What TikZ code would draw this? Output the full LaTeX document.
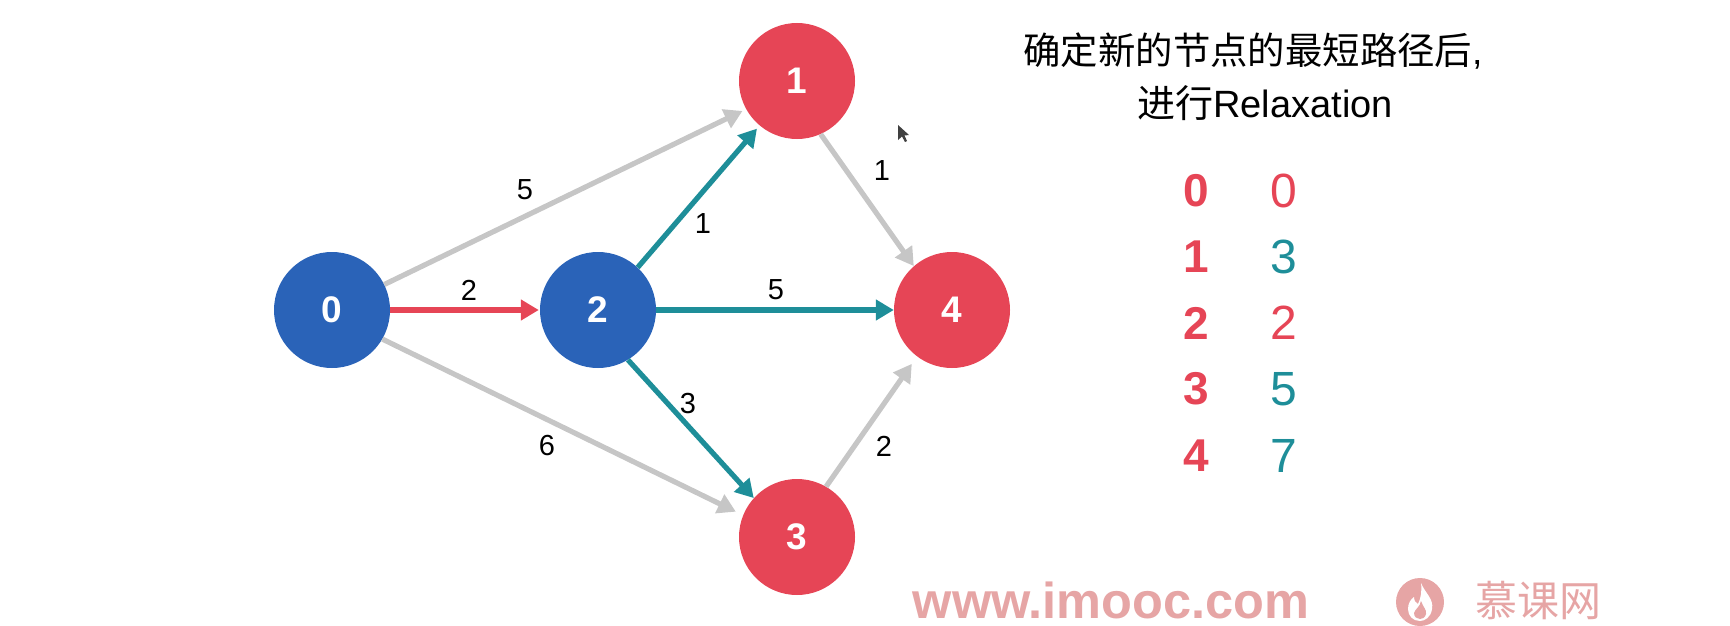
\documentclass[tikz,border=0pt]{standalone}
\usepackage{fontspec}
\setmainfont{Liberation Sans}
\newfontfamily\cjk{Noto Sans CJK SC}
\usepackage{xcolor}
\usetikzlibrary{arrows.meta,positioning,shapes.geometric}
\definecolor{ndblue}{HTML}{2A63B8}
\definecolor{ndred}{HTML}{E64556}
\definecolor{edteal}{HTML}{1E8E99}
\definecolor{edgray}{HTML}{C6C6C6}
\definecolor{wmark}{HTML}{E6A5A5}
\tikzset{
  nd/.style={circle, fill=#1, text=white, inner sep=0pt, minimum size=116pt, font=\fontsize{37}{37}\selectfont\bfseries},
  arr/.style={-{Triangle[length=18pt,width=20pt]}, line width=5.2pt, draw=#1},
  lbl/.style={inner sep=0pt, font=\fontsize{29}{29}\selectfont},
  tbl/.style={inner sep=0pt, font=\fontsize{48}{48}\selectfont, text=#1},
}
\begin{document}
\begin{tikzpicture}[x=1pt,y=-1pt]
  \useasboundingbox (0,0) rectangle (1730,626);
  \node[nd=ndblue] (n0) at (332,310) {0};
  \node[nd=ndblue] (n2) at (598,310) {2};
  \node[nd=ndred] (n1) at (797,81) {1};
  \node[nd=ndred] (n3) at (797,537) {3};
  \node[nd=ndred] (n4) at (952,310) {4};
  \foreach \a/\aa/\b/\bb/\s/\c in {n0/26/n1/209/4/edgray, n0/-30/n3/158/8/edgray, n1/-66/n4/131/0/edgray, n3/60/n4/233/9/edgray,
      n0/0/n2/180/1/ndred, n2/47/n1/230/4/edteal, n2/-59/n3/138/0/edteal, n2/0/n4/180/0/edteal}
    \draw[arr=\c, shorten >=\s pt] (\a.\aa) -- (\b.\bb);
  \node[lbl] (w01) at (525,190) {5};
  \node[lbl] (w02) at (469,290) {2};
  \node[lbl] (w03) at (547,446) {6};
  \node[lbl] (w21) at (703,224) {1};
  \node[lbl] (w24) at (776,290) {5};
  \node[lbl] (w23) at (688,404) {3};
  \node[lbl] (w14) at (882,171) {1};
  \node[lbl] (w34) at (884,446) {2};
  \node[inner sep=0pt, font=\fontsize{37.4}{38}\selectfont] (title) at (1253,51) {{\cjk 确定新的节点的最短路径后},};
  \node[inner sep=0pt, font=\fontsize{38}{38}\selectfont] (subtitle) at (1265,103) {{\cjk 进行}Relaxation};
  \foreach \i/\y/\v/\c in {0/191/0/ndred,1/257/3/edteal,2/323/2/ndred,3/389/5/edteal,4/456/7/edteal} {
    \node[tbl=ndred, font=\fontsize{46}{46}\selectfont\bfseries] (k\i) at (1196,\y) {\i};
    \node[tbl=\c] (d\i) at (1284,\y) {\v};
  }
  \fill[black!75] (898,125) -- (898,140) -- (902,136.5) -- (905,142) -- (907,141) -- (904.5,135.5) -- (909,135) -- cycle;
  \node[inner sep=0pt, text=wmark, font=\fontsize{50.5}{50.5}\selectfont\bfseries] (url) at (1111,600) {www.imooc.com};
  \node[circle, fill=wmark, inner sep=0pt, minimum size=48pt] (logo) at (1420,602) {};
  \fill[white] (1421,583) .. controls (1425,593) and (1434,599) .. (1432,609) .. controls (1431,617) and (1425,621) .. (1420,621) .. controls (1413,621) and (1408,616) .. (1408,609) .. controls (1408,603) and (1411,599) .. (1414,597) .. controls (1414,601) and (1416,603) .. (1418,604) .. controls (1421,598) and (1422,591) .. (1421,583);
  \fill[wmark] (1421,601) .. controls (1423,607) and (1427,610) .. (1426,614) .. controls (1425,618) and (1422,619) .. (1420,619) .. controls (1417,619) and (1414,617) .. (1414,613) .. controls (1415,609) and (1420,607) .. (1421,601);
  \node[inner sep=0pt, text=wmark, font=\fontsize{42}{42}\selectfont\cjk] (brand) at (1538,601) {慕课网};
\end{tikzpicture}
\end{document}
